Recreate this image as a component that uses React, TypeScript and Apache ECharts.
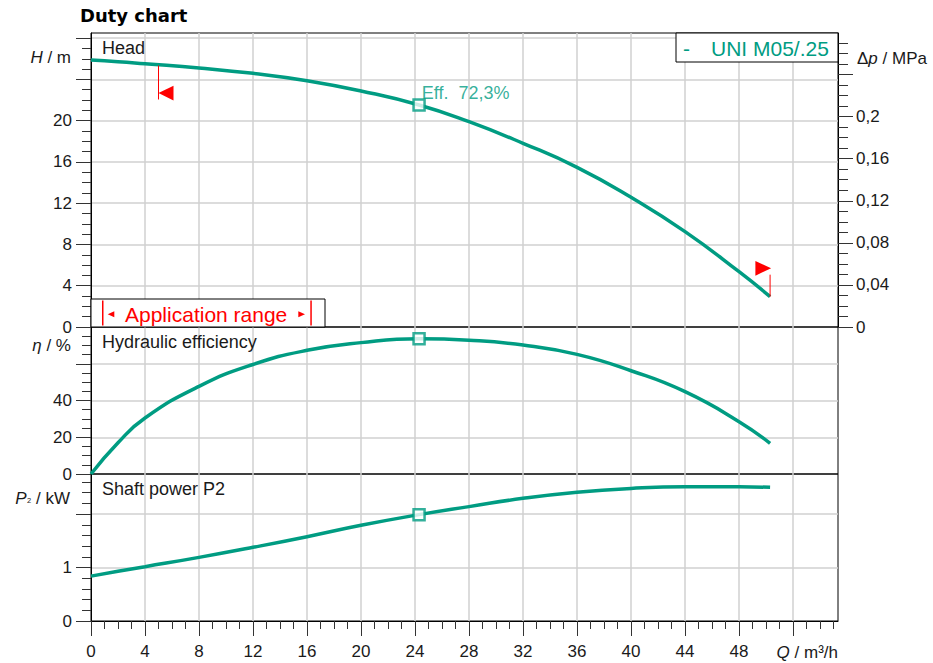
import { useEffect, useRef } from 'react';
import * as echarts from 'echarts';

const TEAL = '#009c82';
const RED = '#ff0000';
const FONT = '"Liberation Sans", Arial, sans-serif';

// ---- data ----
const flowQ = [0, 2, 4, 8, 12, 16, 20, 24.3, 28, 32, 36, 40, 44, 48, 50.3];
const headH = [25.88, 25.72, 25.52, 25.11, 24.59, 23.88, 22.88, 21.52, 19.9, 17.81, 15.48, 12.57, 9.24, 5.36, 2.94];
const efficiency = [0, 17, 30.5, 47.7, 59.6, 67.3, 71.5, 73.6, 72.8, 70.2, 65.1, 56.2, 44.8, 28.5, 16.7];
const powerP2 = [0.84, 0.93, 1.016, 1.19, 1.378, 1.577, 1.79, 1.99, 2.14, 2.295, 2.41, 2.48, 2.51, 2.51, 2.5];

const dutyQ = [24.3];
const dutyH = [21.52];
const dutyEta = [73.6];
const dutyP = [1.99];
const dutyLabel = 'Eff.  72,3%';

const appRangeQ = [5, 50.3];
const appRangeH = [25.35, 2.94];

// ---- axis ticks / labels ----
const qMajorTicks = [0, 4, 8, 12, 16, 20, 24, 28, 32, 36, 40, 44, 48, 52];
const qTickLabels = [0, 4, 8, 12, 16, 20, 24, 28, 32, 36, 40, 44, 48];
const qMinorTicks = [0, 1, 2, 3, 4, 5, 6, 7, 8, 9, 10, 11, 12, 13, 14, 15, 16, 17, 18, 19, 20, 21, 22, 23, 24, 25, 26, 27, 28, 29, 30, 31, 32, 33, 34, 35, 36, 37, 38, 39, 40, 41, 42, 43, 44, 45, 46, 47, 48, 49, 50, 51, 52, 53, 54, 55];
const headMajorTicks = [0, 4, 8, 12, 16, 20, 24, 28];
const headTickLabels = [0, 4, 8, 12, 16, 20];
const headMinorTicks = [0, 1, 2, 3, 4, 5, 6, 7, 8, 9, 10, 11, 12, 13, 14, 15, 16, 17, 18, 19, 20, 21, 22, 23, 24, 25, 26, 27, 28];
const dpMajorTicks = [0, 0.04, 0.08, 0.12, 0.16, 0.2, 0.24];
const dpTickLabels = [0, 0.04, 0.08, 0.12, 0.16, 0.2];
const dpMinorTicks = [0, 0.01, 0.02, 0.03, 0.04, 0.05, 0.06, 0.07, 0.08, 0.09, 0.1, 0.11, 0.12, 0.13, 0.14, 0.15, 0.16, 0.17, 0.18, 0.19, 0.2, 0.21, 0.22, 0.23, 0.24, 0.25, 0.26, 0.27];
const etaMajorTicks = [0, 20, 40, 60];
const etaTickLabels = [0, 20, 40];
const etaMinorTicks = [0, 5, 10, 15, 20, 25, 30, 35, 40, 45, 50, 55, 60, 65, 70, 75];
const powerMajorTicks = [0, 1, 2];
const powerTickLabels = [0, 1];
const powerMinorTicks = [0, 0.2, 0.4, 0.6, 0.8, 1, 1.2, 1.4, 1.6, 1.8, 2, 2.2, 2.4, 2.6];

const Q_MAX = 55.33;
const H_MAX = 28.5;
const DP_MAX = 0.2795;
const ETA_MAX = 80;
const P_MAX = 2.75;

const labelStyle = { color: '#1a1a1a', fontSize: 17, fontFamily: FONT };
const gridLineStyle = { color: '#d0d0d0', width: 1.5 };
const tickColor = '#333';

function xAxisFor(gridIndex: number, main: boolean) {
  return {
    type: 'value', gridIndex, min: 0, max: Q_MAX, position: 'bottom',
    axisLine: { show: main, onZero: false, lineStyle: { color: '#000', width: 1 } },
    axisTick: { show: main, customValues: qMajorTicks, length: 15, lineStyle: { color: tickColor } },
    axisLabel: { show: main, customValues: qTickLabels, margin: 22, ...labelStyle },
    splitLine: { show: true, showMinLine: false, lineStyle: gridLineStyle },
  };
}
function xMinor(gridIndex: number) {
  return {
    type: 'value', gridIndex, min: 0, max: Q_MAX, position: 'bottom',
    axisLine: { show: false, onZero: false },
    axisTick: { show: true, customValues: qMinorTicks, length: 8, lineStyle: { color: tickColor } },
    axisLabel: { show: false },
    splitLine: { show: false },
  };
}
function yMain(gridIndex: number, max: number, ticks: number[], labels: number[], position: string, margin: number, split: boolean, formatter?: any) {
  return {
    type: 'value', gridIndex, min: 0, max, position,
    axisLine: { show: true, onZero: false, lineStyle: { color: '#000', width: 1 } },
    axisTick: { show: true, customValues: ticks, length: 15, lineStyle: { color: tickColor } },
    axisLabel: { show: true, customValues: labels, margin, ...labelStyle, ...(formatter ? { formatter } : {}) },
    splitLine: { show: split, showMinLine: false, lineStyle: gridLineStyle },
  };
}
function yMinor(gridIndex: number, max: number, ticks: number[], position: string, len: number) {
  return {
    type: 'value', gridIndex, min: 0, max, position,
    axisLine: { show: false, onZero: false },
    axisTick: { show: true, customValues: ticks, length: len, lineStyle: { color: tickColor } },
    axisLabel: { show: false },
    splitLine: { show: false },
  };
}

const pairs = (xs: number[], ys: number[]) => xs.map((x, i) => [x, ys[i]]);

function curve(name: string, xi: number, yi: number, ys: number[]) {
  return {
    name, type: 'line', xAxisIndex: xi, yAxisIndex: yi, data: pairs(flowQ, ys),
    smooth: 0.5, showSymbol: false, symbol: 'none',
    lineStyle: { color: TEAL, width: 3.5 }, z: 5, clip: false,
  };
}
function dutyPoint(xi: number, yi: number, ys: number[], withLabel: boolean) {
  return {
    type: 'scatter', xAxisIndex: xi, yAxisIndex: yi, data: pairs(dutyQ, ys),
    symbol: 'rect', symbolSize: 11,
    itemStyle: { color: '#ffffff', borderColor: TEAL, borderWidth: 2.5 }, z: 10,
    label: withLabel
      ? { show: true, formatter: dutyLabel, position: 'right', distance: 0, offset: [-4, -12], color: TEAL, fontSize: 18, fontFamily: FONT }
      : { show: false },
  };
}

function txt(x: number, y: number, text: string, extra: any = {}) {
  return {
    type: 'text', x, y, z: 60,
    style: { text, fill: '#1a1a1a', fontSize: 18, fontFamily: FONT, verticalAlign: 'middle', align: 'left', ...extra },
  };
}
const italic = { fontStyle: 'italic', fontSize: 17, fontFamily: FONT, fill: '#1a1a1a' };
const plain = { fontSize: 17, fontFamily: FONT, fill: '#1a1a1a' };

export default function App() {
  const ref = useRef<HTMLDivElement>(null);
  useEffect(() => {
    if (!ref.current) return;
    const chart = echarts.init(ref.current, undefined, { renderer: 'svg' });
    const option: any = {
      animation: false,
      backgroundColor: '#ffffff',
      grid: [
        { left: 91, top: 33, width: 747, height: 294, show: true, borderColor: '#000', borderWidth: 1, backgroundColor: 'transparent', outerBoundsMode: 'none' },
        { left: 91, top: 327, width: 747, height: 147, show: true, borderColor: '#000', borderWidth: 1, backgroundColor: 'transparent', outerBoundsMode: 'none' },
        { left: 91, top: 474, width: 747, height: 147, show: true, borderColor: '#000', borderWidth: 1, backgroundColor: 'transparent', outerBoundsMode: 'none' },
      ],
      xAxis: [xAxisFor(0, false), xAxisFor(1, false), xAxisFor(2, true), xMinor(2)],
      yAxis: [
        yMain(0, H_MAX, headMajorTicks, headTickLabels, 'left', 19, true),
        yMinor(0, H_MAX, headMinorTicks, 'left', 9),
        yMain(0, DP_MAX, dpMajorTicks, dpTickLabels, 'right', 18, false, (v: number) => String(Math.round(v * 100) / 100).replace('.', ',')),
        yMinor(0, DP_MAX, dpMinorTicks, 'right', 10),
        yMain(1, ETA_MAX, etaMajorTicks, etaTickLabels, 'left', 19, true),
        yMinor(1, ETA_MAX, etaMinorTicks, 'left', 9),
        yMain(2, P_MAX, powerMajorTicks, powerTickLabels, 'left', 19, true),
        yMinor(2, P_MAX, powerMinorTicks, 'left', 9),
      ],
      series: [
        curve('Head', 0, 0, headH),
        curve('Hydraulic efficiency', 1, 4, efficiency),
        curve('Shaft power P2', 2, 6, powerP2),
        dutyPoint(0, 0, dutyH, true),
        dutyPoint(1, 4, dutyEta, false),
        dutyPoint(2, 6, dutyP, false),
        {
          type: 'custom', xAxisIndex: 0, yAxisIndex: 0, z: 8, clip: false,
          data: appRangeQ.map((q, i) => [q, appRangeH[i], i === 0 ? -1 : 1]),
          renderItem: (params: any, api: any) => {
            const p = api.coord([api.value(0), api.value(1)]);
            const dir = api.value(2);
            if (dir < 0) {
              return {
                type: 'group', children: [
                  { type: 'line', shape: { x1: p[0], y1: p[1], x2: p[0], y2: p[1] + 34 }, style: { stroke: RED, lineWidth: 1 } },
                  { type: 'polygon', shape: { points: [[p[0], p[1] + 27.5], [p[0] + 15, p[1] + 20.3], [p[0] + 15, p[1] + 35]] }, style: { fill: RED } },
                ],
              };
            }
            return {
              type: 'group', children: [
                { type: 'line', shape: { x1: p[0], y1: p[1], x2: p[0], y2: p[1] - 22 }, style: { stroke: RED, lineWidth: 1 } },
                { type: 'polygon', shape: { points: [[p[0] + 1, p[1] - 28.4], [p[0] - 14.7, p[1] - 35.7], [p[0] - 14.7, p[1] - 21]] }, style: { fill: RED } },
              ],
            };
          },
        },
      ],
      graphic: [
        txt(80, 15.5, 'Duty chart', { fontFamily: '"DejaVu Sans", Verdana, sans-serif', fontWeight: 'bold', fontSize: 18, fill: '#000' }),
        txt(102, 47.5, 'Head'),
        txt(102, 342, 'Hydraulic efficiency'),
        txt(102, 489, 'Shaft power P2'),
        txt(71, 57.3, '{i|H}{n| / m}', { align: 'right', rich: { i: italic, n: plain } }),
        txt(71, 345, '{i|η}{n| / %}', { align: 'right', rich: { i: italic, n: plain } }),
        txt(70, 498.3, '{i|P}{s|₂}{n| / kW}', { align: 'right', rich: { i: italic, s: { ...plain, fontSize: 12 }, n: plain } }),
        txt(857, 58.3, '{n|Δ}{i|p}{n| / MPa}', { rich: { i: italic, n: plain } }),
        txt(838, 652.7, '{i|Q}{n| / m³/h}', { align: 'right', rich: { i: italic, n: plain } }),
        // legend box
        { type: 'rect', z: 55, shape: { x: 676, y: 33, width: 162, height: 29 }, style: { fill: '#fff', stroke: '#000', lineWidth: 1 } },
        txt(683, 48, '-', { fill: TEAL, fontSize: 21 }),
        txt(711, 48, 'UNI M05/.25', { fill: TEAL, fontSize: 21 }),
        // application range box
        { type: 'rect', z: 55, shape: { x: 91, y: 299, width: 234, height: 28 }, style: { fill: '#fff', stroke: '#000', lineWidth: 1 } },
        { type: 'rect', z: 58, shape: { x: 102, y: 300.5, width: 1.5, height: 25 }, style: { fill: RED } },
        { type: 'rect', z: 58, shape: { x: 310.3, y: 300.5, width: 1.5, height: 25 }, style: { fill: RED } },
        { type: 'polygon', z: 58, shape: { points: [[107.7, 314.2], [114.3, 311.2], [114.3, 317.2]] }, style: { fill: RED } },
        { type: 'polygon', z: 58, shape: { points: [[305, 314.2], [298.3, 311.2], [298.3, 317.2]] }, style: { fill: RED } },
        txt(125, 314.3, 'Application range', { fill: RED, fontSize: 21 }),
      ],
    };
    chart.setOption(option);
    return () => chart.dispose();
  }, []);
  return <div ref={ref} style={{ position: 'absolute', left: 0, top: 0, width: 933, height: 663 }} />;
}
